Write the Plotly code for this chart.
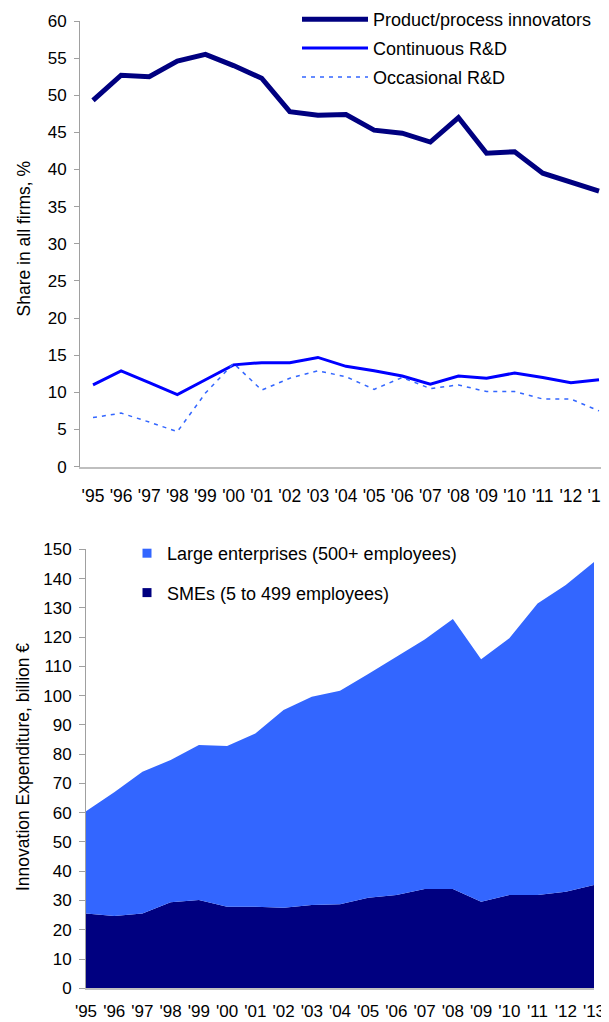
import plotly.graph_objects as go

years = ["'95", "'96", "'97", "'98", "'99", "'00", "'01", "'02", "'03", "'04",
         "'05", "'06", "'07", "'08", "'09", "'10", "'11", "'12", "'13"]

product_innovators = [49.3, 52.7, 52.5, 54.6, 55.5, 54.0, 52.3, 47.8, 47.3, 47.4,
                      45.3, 44.9, 43.7, 47.0, 42.2, 42.4, 39.5, 38.3, 37.1]
continuous_rd = [11.0, 12.9, 11.3, 9.7, 11.7, 13.7, 14.0, 14.0, 14.7, 13.5,
                 12.9, 12.2, 11.1, 12.2, 11.9, 12.6, 12.0, 11.3, 11.7]
occasional_rd = [6.6, 7.2, 6.0, 4.7, 9.9, 13.9, 10.3, 11.9, 12.9, 12.1,
                 10.4, 12.0, 10.5, 11.0, 10.1, 10.1, 9.1, 9.1, 7.5]

smes = [25.6, 24.7, 25.6, 29.4, 30.2, 27.9, 27.9, 27.5, 28.5, 28.7,
        30.9, 31.9, 33.9, 33.9, 29.6, 31.9, 31.9, 33.0, 35.3]
large = [34.9, 42.3, 48.4, 48.6, 52.9, 54.9, 59.2, 67.6, 71.1, 73.0,
         76.5, 81.4, 85.3, 92.3, 82.8, 87.7, 99.6, 104.8, 110.4]

top_ticks = list(range(0, 61, 5))
bottom_ticks = list(range(0, 151, 10))

# the page body adds an 8px margin, so the figure is 8px smaller
OFF = 8
W, H = 609 - OFF, 1022 - OFF
FONT = "Liberation Sans, Arial, sans-serif"
idx = list(range(len(years)))

NAVY = "#000080"
BLUE = "#0000FF"
LIGHT = "#3366FF"


def fx(px):
    return (px - OFF) / W


def fy(py):
    return 1 - (py - OFF) / H


fig = go.Figure()

fig.add_trace(go.Scatter(x=idx, y=product_innovators, mode="lines",
                         name="Product/process innovators",
                         line=dict(color=NAVY, width=5),
                         xaxis="x", yaxis="y", legend="legend",
                         legendgroup="a"))
fig.add_trace(go.Scatter(x=idx, y=continuous_rd, mode="lines",
                         name="Continuous R&D",
                         line=dict(color=BLUE, width=3),
                         xaxis="x", yaxis="y", legend="legend",
                         legendgroup="b"))
fig.add_trace(go.Scatter(x=idx, y=occasional_rd, mode="lines",
                         name="Occasional R&D",
                         line=dict(color=LIGHT, width=1.5, dash="4px,5px"),
                         xaxis="x", yaxis="y", legend="legend",
                         legendgroup="c"))

fig.add_trace(go.Scatter(x=idx, y=smes, mode="lines", stackgroup="s",
                         name="SMEs (5 to 499 employees)",
                         line=dict(width=0, color=NAVY), fillcolor=NAVY,
                         xaxis="x2", yaxis="y2", showlegend=False))
fig.add_trace(go.Scatter(x=idx, y=large, mode="lines", stackgroup="s",
                         name="Large enterprises (500+ employees)",
                         line=dict(width=0, color=LIGHT), fillcolor=LIGHT,
                         xaxis="x2", yaxis="y2", showlegend=False))

# legend entries (square keys) for the area chart
fig.add_trace(go.Scatter(x=[None], y=[None], mode="markers",
                         name="Large enterprises (500+ employees)",
                         marker=dict(symbol="square", size=9, color=LIGHT,
                                     line=dict(width=0)),
                         xaxis="x2", yaxis="y2", legend="legend2",
                         legendgroup="d"))
fig.add_trace(go.Scatter(x=[None], y=[None], mode="markers",
                         name="SMEs (5 to 499 employees)",
                         marker=dict(symbol="square", size=9, color=NAVY,
                                     line=dict(width=0)),
                         xaxis="x2", yaxis="y2", legend="legend2",
                         legendgroup="e"))

# top chart: first point at 93px, last at 599px (page pixels)
step_t = (599 - 93) / 18
x0_t = -(93 - 80) / step_t
x1_t = 18 + (609 - 599) / step_t

ytick_font = dict(family=FONT, size=17, color="#000000")
xtick_font = dict(family=FONT, size=17.5, color="#000000")
xtick_font2 = dict(family=FONT, size=17, color="#000000")
title_font = dict(family=FONT, size=17.5, color="#000000")
legend_font = dict(family=FONT, size=18, color="#000000")

fig.update_layout(
    width=W, height=H,
    margin=dict(l=0, r=0, t=0, b=0, autoexpand=False),
    paper_bgcolor="white", plot_bgcolor="white",
    font=dict(family=FONT, size=17, color="#000000"),
    xaxis=dict(domain=[fx(80), 1.0], range=[x0_t, x1_t],
               tickmode="array", tickvals=idx, ticktext=years,
               showgrid=False, zeroline=False,
               showline=True, linecolor="#BFBFBF", linewidth=2,
               ticks="", ticklabelstandoff=12, ticklabeloverflow="allow",
               tickfont=xtick_font, anchor="y", automargin=False),
    yaxis=dict(domain=[fy(466.6), fy(21)], range=[0, 60],
               tickmode="array", tickvals=top_ticks,
               showgrid=False, zeroline=False,
               showline=True, linecolor="#A0A0A0", linewidth=1,
               ticks="outside", ticklen=5, tickcolor="#A0A0A0",
               ticklabelstandoff=4,
               tickfont=ytick_font, anchor="x", automargin=False),
    xaxis2=dict(domain=[fx(86), fx(594)], range=[0, 18],
                tickmode="array", tickvals=idx, ticktext=years,
                showgrid=False, zeroline=False,
                showline=True, linecolor="#BFBFBF", linewidth=2,
                ticks="", ticklabelstandoff=6, ticklabeloverflow="allow",
                tickfont=xtick_font2, anchor="y2", automargin=False),
    yaxis2=dict(domain=[fy(988.3), fy(549.3)], range=[0, 150],
                tickmode="array", tickvals=bottom_ticks,
                showgrid=False, zeroline=False,
                showline=True, linecolor="#A0A0A0", linewidth=1,
                ticks="outside", ticklen=6, tickcolor="#A0A0A0",
                ticklabelstandoff=4,
                tickfont=ytick_font, anchor="x2", automargin=False),
    legend=dict(x=fx(297), y=fy(1), xanchor="left", yanchor="top",
                bgcolor="rgba(0,0,0,0)", font=legend_font,
                tracegroupgap=2.5, itemwidth=66, traceorder="grouped"),
    legend2=dict(x=fx(127), y=fy(535), xanchor="left", yanchor="top",
                 bgcolor="rgba(0,0,0,0)", font=legend_font,
                 tracegroupgap=13, itemwidth=30, traceorder="grouped"),
    showlegend=True,
    annotations=[
        dict(text="Share in all firms, %", x=fx(23.5), y=fy(239),
             xref="paper", yref="paper", xanchor="center", yanchor="middle",
             textangle=-90, showarrow=False, font=title_font),
        dict(text="Innovation Expenditure, billion €", x=fx(22.5), y=fy(767.5),
             xref="paper", yref="paper", xanchor="center", yanchor="middle",
             textangle=-90, showarrow=False, font=title_font),
    ],
)

fig.write_html("out.html")
